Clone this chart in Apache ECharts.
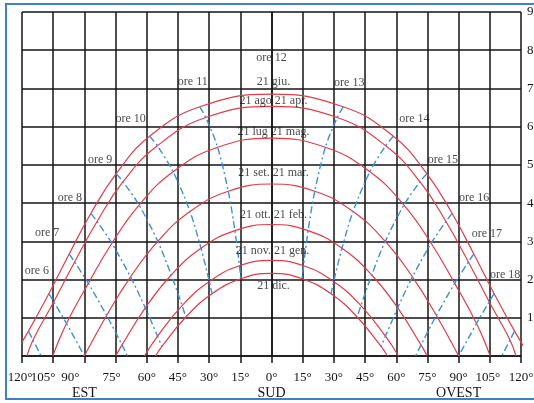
<!DOCTYPE html>
<html><head><meta charset="utf-8">
<script src="https://cdn.jsdelivr.net/npm/echarts@6/dist/echarts.min.js"></script>
<style>html,body{margin:0;padding:0;background:#fff}#c{width:534px;height:403px}</style>
</head><body><div id="c"></div>
<script>
// ---- data (azimuth: east negative, west positive; altitude in degrees) ----
const hours = [5, 6, 7, 8, 9, 10, 11, 12, 13, 14, 15, 16, 17, 18, 19];

const curveLabels = ['21 giu.', '21 ago 21 apr.', '21 lug 21 mag.', '21 set. 21 mar.',
                     '21 ott. 21 feb.', '21 nov. 21 gen.', '21 dic.'];

const c1Az  = [-116.9, -107.1, -97.3, -86.9, -74.7, -58.6, -34.5, 0, 34.5, 58.6, 74.7, 86.9, 97.3, 107.1, 116.9];
const c1Alt = [6.5, 16.3, 26.7, 37.3, 47.7, 57.5, 65.2, 68.5, 65.2, 57.5, 47.7, 37.3, 26.7, 16.3, 6.5];
const c2Az  = [-114.7, -104.7, -94.7, -83.9, -71.4, -54.9, -31.6, 0, 31.6, 54.9, 71.4, 83.9, 94.7, 104.7, 114.7];
const c2Alt = [4.2, 14.2, 24.6, 35.2, 45.6, 55.0, 62.4, 65.3, 62.4, 55.0, 45.6, 35.2, 24.6, 14.2, 4.2];
const c3Az  = [null, -98.6, -88.1, -76.8, -63.7, -47.3, -25.9, 0, 25.9, 47.3, 63.7, 76.8, 88.1, 98.6, null];
const c3Alt = [null, 8.5, 19.0, 29.5, 39.5, 48.2, 54.6, 57.0, 54.6, 48.2, 39.5, 29.5, 19.0, 8.5, null];
const c4Az  = [null, null, -79.3, -67.8, -54.7, -39.2, -20.8, 0, 20.8, 39.2, 54.7, 67.8, 79.3, null, null];
const c4Alt = [null, null, 10.6, 20.7, 30.0, 37.8, 43.1, 45.0, 43.1, 37.8, 30.0, 20.7, 10.6, null, null];
const c5Az  = [null, null, -71.9, -60.7, -48.2, -33.9, -17.6, 0, 17.6, 33.9, 48.2, 60.7, 71.9, null, null];
const c5Alt = [null, null, 2.9, 12.6, 21.2, 28.2, 32.8, 34.4, 32.8, 28.2, 21.2, 12.6, 2.9, null, null];
const c6Az  = [null, null, null, -54.8, -43.0, -29.9, -15.4, 0, 15.4, 29.9, 43.0, 54.8, null, null, null];
const c6Alt = [null, null, null, 5.2, 13.2, 19.5, 23.6, 25.0, 23.6, 19.5, 13.2, 5.2, null, null, null];
const c7Az  = [null, null, null, -52.7, -41.2, -28.6, -14.7, 0, 14.7, 28.6, 41.2, 52.7, null, null, null];
const c7Alt = [null, null, null, 2.5, 10.2, 16.3, 20.2, 21.6, 20.2, 16.3, 10.2, 2.5, null, null, null];

// sunrise / sunset azimuths on the horizon, one per curve
const riseAz = [-124.2, -117.6, -105.2, -90, -74.9, -61.1, -55.8];
const setAz  = [124.2, 117.6, 105.2, 90, 74.9, 61.1, 55.8];

// where hour lines reach the horizon
const hourHorizonAz = {5: -110.8, 6: -90, 7: -69.3, 17: 69.3, 18: 90, 19: 110.8};

const compassLabels = {'-90': 'EST', '0': 'SUD', '90': 'OVEST'};

// ---- styles ----
const SERIF = '"Liberation Serif","Times New Roman",serif';
const RED = '#e23b48', BLUE = '#3d8fd8', INK = '#151515';
const xLabelShift = {'-120': -2, '-105': -10, '-90': -14, '-75': -4, '105': -2};
const hourLabelOffset = {6: [-12, -23], 7: [-22, -21], 8: [-21, -16], 9: [-16, -14], 10: [-19, -17],
  11: [-7, -25], 12: [0, -36], 13: [6, -24], 14: [21, -17], 15: [16, -14], 16: [22, -16],
  17: [13, -20], 18: [11, -19]};
const curveLabelOffset = [[2, -12], [2, -6], [2, -6], [2, -11], [2, -10], [1, -10], [2, 12]];

const curves = [[c1Az, c1Alt], [c2Az, c2Alt], [c3Az, c3Alt], [c4Az, c4Alt], [c5Az, c5Alt], [c6Az, c6Alt], [c7Az, c7Alt]];

const series = [];
curves.forEach(function (c, k) {
  const pts = [[riseAz[k], 0]];
  c[0].forEach(function (az, i) { if (az !== null) pts.push([az, c[1][i]]); });
  pts.push([setAz[k], 0]);
  series.push({type: 'line', data: pts, smooth: 0.45, symbol: 'none', clip: false, z: 3,
    lineStyle: {color: RED, width: 1.2}, silent: true});
});
hours.forEach(function (h, i) {
  if (h === 12) return;
  const pts = [];
  curves.forEach(function (c) { if (c[0][i] !== null) pts.push([c[0][i], c[1][i]]); });
  if (hourHorizonAz[h] !== undefined) pts.push([hourHorizonAz[h], 0]);
  series.push({type: 'line', data: pts, smooth: 0.3, symbol: 'none', z: 4,
    lineStyle: {color: BLUE, width: 1.4, type: [7, 3, 2, 3]}, silent: true});
});
// hour labels anchored on the 21 June curve
const hourLabelData = [];
hours.forEach(function (h, i) {
  if (!hourLabelOffset[h]) return;
  hourLabelData.push({value: [c1Az[i], c1Alt[i]], label: {formatter: 'ore ' + h, offset: hourLabelOffset[h]}});
});
const labelSeriesBase = {type: 'scatter', symbol: 'circle', symbolSize: 2, clip: false,
  itemStyle: {color: 'rgba(0,0,0,0)'}, z: 6, silent: true,
  label: {show: true, position: 'inside', color: INK, fontFamily: SERIF, fontSize: 12}};
series.push(Object.assign({}, labelSeriesBase, {data: hourLabelData}));
// date labels anchored on noon of each curve
const curveLabelData = curves.map(function (c, k) {
  return {value: [0, c[1][7]], label: {formatter: curveLabels[k], offset: curveLabelOffset[k]}};
});
series.push(Object.assign({}, labelSeriesBase, {data: curveLabelData}));

const rich = {};
Object.keys(xLabelShift).forEach(function (k) {
  const s = xLabelShift[k];
  rich['s' + Math.abs(s)] = {fontFamily: SERIF, fontSize: 13, color: INK, padding: [0, 2 * Math.abs(s), 0, 0]};
});
function degLabel(v) {
  const t = Math.abs(v) + '°';
  const s = xLabelShift[String(v)];
  return s ? '{s' + Math.abs(s) + '|' + t + '}' : t;
}
// labels that sit on a separate (label-only) axis so they are never auto-hidden
const separateX = ['-105'];

const plainAxis = {type: 'value', min: -120, max: 120, interval: 15, position: 'bottom',
  axisLine: {show: false}, axisTick: {show: false}, splitLine: {show: false}};

const chart = echarts.init(document.getElementById('c'), null, {renderer: 'canvas'});
chart.setOption({
  animation: false,
  backgroundColor: '#fff',
  grid: {left: 22, right: 13, top: 12, bottom: 47, containLabel: false, outerBoundsMode: 'none'},
  xAxis: [{
    type: 'value', min: -120, max: 120, interval: 15, position: 'bottom',
    axisLine: {show: true, onZero: false, lineStyle: {color: INK, width: 1.5}},
    axisTick: {show: true, length: 7, lineStyle: {color: INK, width: 1.5}},
    splitLine: {show: true, lineStyle: {color: INK, width: 1.5}},
    axisLabel: {margin: 15, fontFamily: SERIF, fontSize: 13, color: INK, lineHeight: 13, rich: rich,
      showMinLabel: true, showMaxLabel: true, hideOverlap: false,
      formatter: function (v) { return separateX.indexOf(String(v)) >= 0 ? '' : degLabel(v); }}
  }, Object.assign({}, plainAxis, {
    axisLabel: {margin: 15, fontFamily: SERIF, fontSize: 13, color: INK, lineHeight: 13, rich: rich,
      showMinLabel: true, showMaxLabel: true,
      formatter: function (v) { return separateX.indexOf(String(v)) >= 0 ? degLabel(v) : ''; }}
  }), Object.assign({}, plainAxis, {
    axisLabel: {margin: 30, fontFamily: SERIF, fontSize: 14, color: INK, lineHeight: 14,
      formatter: function (v) { return compassLabels[String(v)] || ''; }}
  })],
  yAxis: {
    type: 'value', min: 0, max: 90, interval: 10, position: 'right',
    axisLine: {show: true, lineStyle: {color: INK, width: 1.5}},
    axisTick: {show: false},
    splitLine: {show: true, lineStyle: {color: INK, width: 1.5}},
    axisLabel: {margin: 6, fontFamily: SERIF, fontSize: 13, color: INK, align: 'left',
      showMaxLabel: true, hideOverlap: false,
      formatter: function (v) { return v === 0 ? '' : String(v); }}
  },
  graphic: [{type: 'rect', shape: {x: 6, y: 4, width: 560, height: 395}, z: 0,
    style: {fill: 'none', stroke: '#3f80c6', lineWidth: 2}}],
  series: series
});
</script></body></html>
